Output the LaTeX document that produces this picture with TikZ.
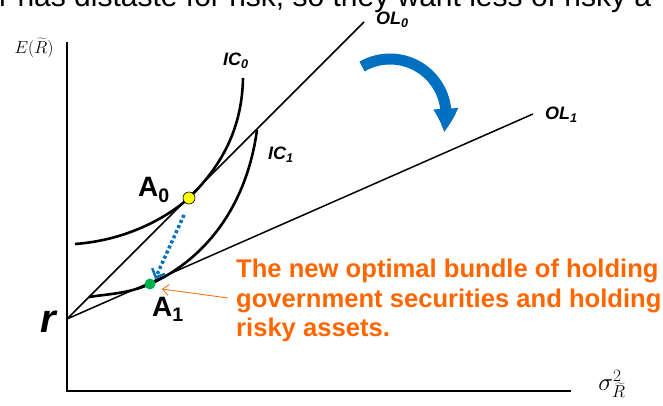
\documentclass[tikz,border=0pt]{standalone}
\usepackage{fontspec}
\setmainfont{Liberation Sans}
\usetikzlibrary{arrows.meta,bending}
\definecolor{myorange}{RGB}{255,102,0}
\definecolor{myblue}{RGB}{0,112,192}
\definecolor{mygreen}{RGB}{0,176,80}
\definecolor{myyellow}{RGB}{255,255,0}
\tikzset{
  axisline/.style={line width=2pt},
  olline/.style={line width=1.5pt},
  icline/.style={line width=2.6pt},
  curvelbl/.style={anchor=base west, inner sep=0pt, font=\bfseries\itshape\fontsize{18}{20}\selectfont},
  ptlbl/.style={anchor=base west, inner sep=0pt, font=\bfseries\fontsize{28}{30}\selectfont},
  dot/.style={circle, inner sep=0pt, minimum size=12pt}
}
\begin{document}
\begin{tikzpicture}[x=1pt,y=1pt]
\useasboundingbox (0,0) rectangle (663,406);
% cut-off text at top
\node[anchor=base west, inner sep=0pt, font=\fontsize{30}{32}\selectfont] (toptxt) at (-1,399.5) {r has distaste for risk, so they want less of risky a};
% axes
\coordinate (O) at (67,15);
\coordinate (ytop) at (67,364);
\coordinate (xend) at (571,15);
\coordinate (r) at (67,87);
\coordinate (ol0) at (364,384);
\coordinate (ol1) at (533,292);
\draw[axisline] (ytop) -- (O) -- (xend);
\draw[olline] (r) -- (ol0);
\draw[olline] (r) -- (ol1);
% indifference curves
\draw[icline] (75,162) .. controls (130,166) and (170,191) .. (189,208)
  .. controls (215,234) and (242,270) .. (243,328);
\draw[icline] (89,109) .. controls (108,112) and (128,112.3) .. (150,122)
  .. controls (202,145) and (246,196) .. (257,276);
% points
\node[dot, fill=myyellow, draw=black, line width=0.6pt] (A0) at (189,208) {};
\node[dot, fill=mygreen, minimum size=11pt] (A1) at (150,122) {};
% dotted blue arrow
\coordinate (dstart) at (184,191);
\coordinate (dend) at (155,127);
\draw[myblue, line width=3.5pt, dash pattern=on 3pt off 2.6pt, -{Straight Barb[length=7pt,width=14pt,line width=2.5pt]}] (dstart) -- (dend);
% orange arrow
\coordinate (ostart) at (228,108);
\coordinate (oend) at (162,117);
\draw[myorange, line width=0.8pt, -{Straight Barb[length=6pt,width=11pt]}] (ostart) -- (oend);
% blue curved arrow
\draw[myblue, line width=11pt, -{Triangle[length=24pt,width=23pt,bend]}] (390,291) ++(120:56) arc[start angle=120, end angle=-18, radius=56];
% labels
\node[anchor=center, inner sep=0pt, font=\fontsize{19}{22}\selectfont] (Elab) at (34,358) {$E(\widetilde{R})$};
\node[anchor=center, inner sep=0pt, font=\fontsize{26}{28}\selectfont] (slab) at (612,22) {$\sigma^2_{\widetilde{R}}$};
\node[anchor=base, inner sep=0pt, font=\bfseries\itshape\fontsize{40}{42}\selectfont] (rlab) at (48,73) {r};
\node[ptlbl] (A0lab) at (138,209) {A\textsubscript{0}};
\node[ptlbl] (A1lab) at (152,89) {A\textsubscript{1}};
\node[curvelbl] (IC0lab) at (223,340) {IC\textsubscript{0}};
\node[curvelbl] (IC1lab) at (268,246) {IC\textsubscript{1}};
\node[curvelbl] (OL0lab) at (376,381) {OL\textsubscript{0}};
\node[curvelbl] (OL1lab) at (545,286) {OL\textsubscript{1}};
\node[anchor=north west, inner sep=0pt, align=left, text=myorange, font=\bfseries\fontsize{25.6}{29.5}\selectfont] (note) at (236,147) {The new optimal bundle of holding\\government securities and holding\\risky assets.};
\end{tikzpicture}
\end{document}
